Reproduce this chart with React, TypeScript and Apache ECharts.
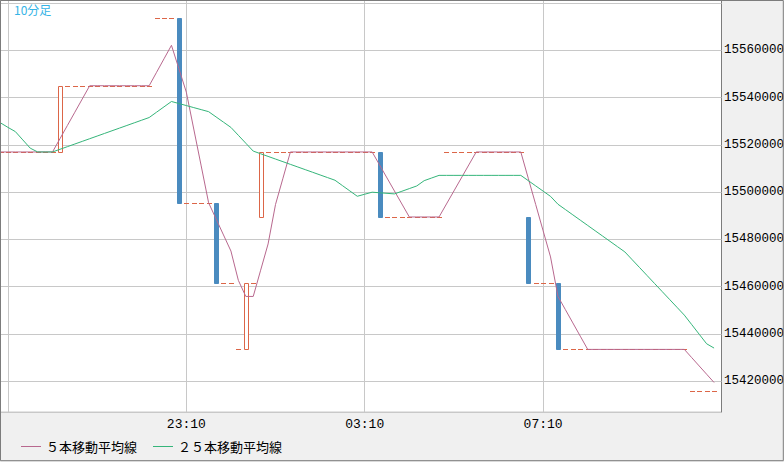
import { useEffect, useRef } from 'react';
import * as echarts from 'echarts';

// 10-minute bars, 19:00 .. 11:10 (the last slot stays empty)
const times: string[] = [];
for (let k = 0; k < 98; k++) {
    const m = (19 * 60 + k * 10) % 1440;
    times.push(String(Math.floor(m / 60)).padStart(2, '0') + ':' + String(m % 60).padStart(2, '0'));
}
const timeLabels = ['23:10', '03:10', '07:10'];
const timeGrid = ['19:10', '23:10', '03:10', '07:10'];
const priceLabels = [15420000, 15440000, 15460000, 15480000, 15500000, 15520000, 15540000, 15560000];

const opens = [
    15517000, 15517000, 15517000, 15517000, 15517000, 15517000, 15517000, 15517000, 15517000, 15545000,
    15545000, 15545000, 15545000, 15545000, 15545000, 15545000, 15545000, 15545000, 15545000, 15545000,
    15545000, 15573500, 15573500, 15573500, 15573500, 15495500, 15495500, 15495500, 15495500, 15495500,
    15461500, 15461500, 15433500, 15433500, 15461500, 15489500, 15517000, 15517000, 15517000, 15517000,
    15517000, 15517000, 15517000, 15517000, 15517000, 15517000, 15517000, 15517000, 15517000, 15517000,
    15517000, 15517000, 15489500, 15489500, 15489500, 15489500, 15489500, 15489500, 15489500, 15489500,
    15517000, 15517000, 15517000, 15517000, 15517000, 15517000, 15517000, 15517000, 15517000, 15517000,
    15517000, 15489500, 15461500, 15461500, 15461500, 15461500, 15433500, 15433500, 15433500, 15433500,
    15433500, 15433500, 15433500, 15433500, 15433500, 15433500, 15433500, 15433500, 15433500, 15433500,
    15433500, 15433500, 15433500, 15416000, 15416000, 15416000, 15416000
];
const closes = [
    15517000, 15517000, 15517000, 15517000, 15517000, 15517000, 15517000, 15517000, 15545000, 15545000,
    15545000, 15545000, 15545000, 15545000, 15545000, 15545000, 15545000, 15545000, 15545000, 15545000,
    15545000, 15573500, 15573500, 15573500, 15495500, 15495500, 15495500, 15495500, 15495500, 15461500,
    15461500, 15461500, 15433500, 15461500, 15461500, 15517000, 15517000, 15517000, 15517000, 15517000,
    15517000, 15517000, 15517000, 15517000, 15517000, 15517000, 15517000, 15517000, 15517000, 15517000,
    15517000, 15489500, 15489500, 15489500, 15489500, 15489500, 15489500, 15489500, 15489500, 15489500,
    15517000, 15517000, 15517000, 15517000, 15517000, 15517000, 15517000, 15517000, 15517000, 15517000,
    15517000, 15461500, 15461500, 15461500, 15461500, 15433500, 15433500, 15433500, 15433500, 15433500,
    15433500, 15433500, 15433500, 15433500, 15433500, 15433500, 15433500, 15433500, 15433500, 15433500,
    15433500, 15433500, 15433500, 15416000, 15416000, 15416000, 15416000
];
const ma5 = [
    15517000, 15517000, 15517000, 15517000, 15517000, 15517000, 15517000, 15517000, 15522600, 15528200,
    15533800, 15539400, 15545000, 15545000, 15545000, 15545000, 15545000, 15545000, 15545000, 15545000,
    15545000, 15550700, 15556400, 15562100, 15552200, 15542300, 15526700, 15511100, 15495500, 15488700,
    15481900, 15475100, 15462700, 15455900, 15455900, 15467000, 15478100, 15494800, 15505900, 15517000,
    15517000, 15517000, 15517000, 15517000, 15517000, 15517000, 15517000, 15517000, 15517000, 15517000,
    15517000, 15511500, 15506000, 15500500, 15495000, 15489500, 15489500, 15489500, 15489500, 15489500,
    15495000, 15500500, 15506000, 15511500, 15517000, 15517000, 15517000, 15517000, 15517000, 15517000,
    15517000, 15505900, 15494800, 15483700, 15472600, 15455900, 15450300, 15444700, 15439100, 15433500,
    15433500, 15433500, 15433500, 15433500, 15433500, 15433500, 15433500, 15433500, 15433500, 15433500,
    15433500, 15433500, 15433500, 15430000, 15426500, 15423000, 15419500
];
const ma25 = [
    15529300, 15527400, 15525600, 15522100, 15518600, 15517000, 15517000, 15517000, 15518120, 15519240,
    15520360, 15521480, 15522600, 15523720, 15524840, 15525960, 15527080, 15528200, 15529320, 15530440,
    15531560, 15533820, 15536080, 15538340, 15537480, 15536620, 15535760, 15534900, 15534040, 15531820,
    15529600, 15527380, 15524040, 15520700, 15517360, 15516240, 15515120, 15514000, 15512880, 15511760,
    15510640, 15509520, 15508400, 15507280, 15506160, 15505040, 15502780, 15500520, 15498260, 15499120,
    15499980, 15499740, 15499500, 15499260, 15500380, 15501500, 15502620, 15504860, 15505980, 15507100,
    15507100, 15507100, 15507100, 15507100, 15507100, 15507100, 15507100, 15507100, 15507100, 15507100,
    15507100, 15504880, 15502660, 15500440, 15498220, 15494880, 15492640, 15490400, 15488160, 15485920,
    15483680, 15481440, 15479200, 15476960, 15474720, 15471380, 15468040, 15464700, 15461360, 15458020,
    15454680, 15451340, 15448000, 15443960, 15439920, 15435880, 15434060
];

const UP = '#dc6648';
const DOWN = '#4a8bbf';
const MA5_COLOR = '#b8688e';
const MA25_COLOR = '#35b57a';
const MONO = 'Liberation Mono, DejaVu Sans Mono, monospace';
const JP = 'Noto Sans CJK JP, sans-serif';

// one bar: hollow body when it rose, filled when it fell, a short flat stroke when nothing traded
function renderBar(_params: any, api: any) {
    const k = api.value(0);
    const o = api.value(1);
    const c = api.value(2);
    const po = api.coord([k, o]);
    const pc = api.coord([k, c]);
    const cx = Math.round(po[0]);
    if (o === c) {
        const y = Math.round(po[1]) + 0.5;
        return {
            type: 'line',
            shape: { x1: cx - 2, y1: y, x2: cx + 3, y2: y },
            style: { stroke: UP, lineWidth: 1 }
        };
    }
    const top = Math.round(Math.min(po[1], pc[1])) + 0.5;
    const bottom = Math.round(Math.max(po[1], pc[1])) + 0.5;
    return {
        type: 'rect',
        shape: { x: cx - 1.5, y: top, width: 4, height: bottom - top },
        style: c > o
            ? { fill: '#ffffff', stroke: UP, lineWidth: 1 }
            : { fill: DOWN, stroke: DOWN, lineWidth: 1 }
    };
}

export default function App() {
    const ref = useRef<HTMLDivElement>(null);

    useEffect(() => {
        if (!ref.current) return;
        const chart = echarts.init(ref.current, undefined, { renderer: 'svg' });
        const bars = opens.map((o, i) => [i, o, closes[i]]);

        chart.setOption({
            animation: false,
            backgroundColor: '#f0f0f0',
            title: {
                text: '10分足', left: 14, top: 3, padding: 0,
                textStyle: { color: '#35b4e6', fontSize: 12, fontWeight: 'normal', fontFamily: JP }
            },
            legend: {
                data: ['５本移動平均線', '２５本移動平均線'],
                left: 16, top: 435, icon: 'rect', itemWidth: 20, itemHeight: 1, itemGap: 16,
                selectedMode: false,
                textStyle: { color: '#000', fontSize: 13, fontFamily: JP }
            },
            grid: {
                left: 0.5, right: 62.5, top: 0.5, bottom: 49.7, show: true,
                outerBoundsMode: 'none', containLabel: false,
                backgroundColor: '#ffffff', borderColor: '#7c7c7c', borderWidth: 1
            },
            xAxis: {
                type: 'category', data: times, boundaryGap: false,
                axisLine: { show: false }, axisTick: { show: false },
                axisLabel: {
                    margin: 6, color: '#000', fontSize: 13, fontFamily: MONO,
                    interval: (_i: number, v: string) => timeLabels.includes(v)
                },
                splitLine: {
                    show: true, lineStyle: { color: '#c8c8c8', width: 1 },
                    interval: (_i: number, v: string) => timeGrid.includes(v)
                }
            },
            yAxis: {
                type: 'value', position: 'right', min: 15406900, max: 15581050, splitNumber: 9,
                axisLine: { show: false }, axisTick: { show: false },
                axisLabel: {
                    margin: 2.5, color: '#000', fontSize: 12.5, fontFamily: MONO,
                    formatter: (v: number) => (priceLabels.includes(Math.round(v)) ? String(Math.round(v)) : '')
                },
                splitLine: { lineStyle: { color: '#c8c8c8', width: 1 } }
            },
            series: [
                {
                    type: 'custom', data: bars, renderItem: renderBar, z: 2, clip: true,
                    encode: { x: 0, y: [1, 2] }
                },
                {
                    name: '５本移動平均線', type: 'line', data: ma5, symbol: 'none', z: 3,
                    itemStyle: { color: MA5_COLOR }, lineStyle: { color: MA5_COLOR, width: 1 }
                },
                {
                    name: '２５本移動平均線', type: 'line', data: ma25, symbol: 'none', z: 3,
                    itemStyle: { color: MA25_COLOR }, lineStyle: { color: MA25_COLOR, width: 1 }
                }
            ],
            graphic: [{
                type: 'rect', silent: true, z: 100,
                shape: { x: 0.5, y: 0.5, width: 782.8, height: 460.2 },
                style: { fill: 'none', stroke: '#7c7c7c', lineWidth: 1 }
            }]
        });

        return () => chart.dispose();
    }, []);

    return (
        <div
            ref={ref}
            style={{ position: 'absolute', left: 0, top: 0, width: 784, height: 462, overflow: 'hidden' }}
        />
    );
}
